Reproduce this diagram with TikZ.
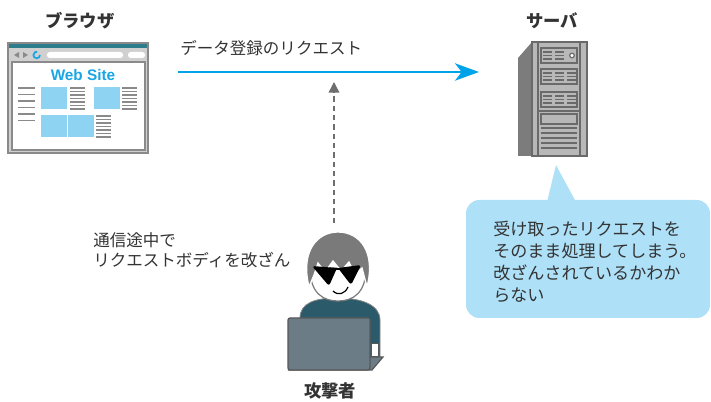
\documentclass[tikz,border=0pt]{standalone}
\usepackage{fontspec}
\setmainfont{Noto Sans CJK JP}
\newfontfamily\websans{Liberation Sans}
\usetikzlibrary{arrows.meta}

\definecolor{ink}{HTML}{333333}
\definecolor{reqblue}{HTML}{00A3E8}
\definecolor{bubble}{HTML}{AEE0F7}
\definecolor{pane}{HTML}{8FD3F2}
\definecolor{webblue}{HTML}{1AA6E4}
\definecolor{frame}{HTML}{D0D0D0}
\definecolor{framedark}{HTML}{8A8A8A}
\definecolor{barteal}{HTML}{2E7D8C}
\definecolor{srvfront}{HTML}{B8B8B8}
\definecolor{srvside}{HTML}{7C7C7C}
\definecolor{srvline}{HTML}{6A6A6A}
\definecolor{hair}{HTML}{7A7A7A}
\definecolor{shirt}{HTML}{2B5A6B}
\definecolor{laptop}{HTML}{6C7C87}
\definecolor{laptopline}{HTML}{585858}

\tikzset{
  label/.style={text=ink, inner sep=0pt, font=\fontsize{12.4}{16}\selectfont},
  title/.style={text=ink, inner sep=0pt, font=\bfseries\fontsize{13}{16}\selectfont},
  txtline/.style={draw=framedark, line width=1.3pt},
  vent/.style={draw=srvline, line width=0.9pt},
}

\begin{document}
\begin{tikzpicture}[x=0.75pt,y=-0.75pt]
  \useasboundingbox (0,0) rectangle (711,402);

  % titles
  \node[title] (browser-title) at (80,21) {ブラウザ};
  \node[title] (server-title) at (552,21) {サーバ};
  \node[title] (attacker-title) at (330,391) {攻撃者};

  % browser window
  \filldraw[fill=frame, draw=framedark, line width=1pt] (8,43) rectangle (148,153);
  \fill[barteal] (9,44) rectangle (147,48);
  \fill[framedark] (14,55) -- (19,52) -- (19,58) -- cycle;
  \fill[framedark] (23,52) -- (28,55) -- (23,58) -- cycle;
  \draw[webblue, line width=1.3pt] (40,55) arc[start angle=0, end angle=280, radius=3.3];
  \fill[white, rounded corners=2pt] (47,52) rectangle (123,58);
  \fill[white, rounded corners=2pt] (128,52) rectangle (145,58);
  \filldraw[fill=white, draw=framedark, line width=0.8pt] (12,62) rectangle (145,150);
  \node[text=webblue, inner sep=0pt, font=\websans\bfseries\fontsize{11.5}{12}\selectfont] (websign) at (83,75) {Web Site};
  \def\panes{(41,87),(94,87),(41,115),(68,115)}
  \foreach \p in \panes {\fill[pane] \p rectangle ++(26,22);}
  \foreach \y in {88,94.5,...,121} {\draw[txtline] (18,\y) -- (35,\y);}
  \foreach \x/\y in {70/88,122/88,96/116} {
    \foreach \k in {0,...,6} {\draw[txtline, line width=1pt] (\x,\y+\k*3.5) -- (\x+15,\y+\k*3.5);}
  }

  % server tower
  \fill[srvside] (518,58) -- (532,42) -- (532,156) -- (518,156) -- cycle;
  \filldraw[fill=srvfront, draw=srvline, line width=1pt] (532,42) rectangle (587,156);
  \draw[srvline, line width=0.8pt] (538,42) -- (538,156) (580,42) -- (580,156);
  \foreach \t in {48,69,92} {\filldraw[fill=srvfront, draw=srvline, line width=0.8pt] (541,\t) rectangle (577,\t+15);}
  \foreach \t in {48,69,92} {
    \foreach \g in {543,555} {\draw[vent] (\g,\t+4) -- (\g+9,\t+4) (\g,\t+7.5) -- (\g+9,\t+7.5) (\g,\t+11) -- (\g+9,\t+11);}
  }
  \foreach \t in {69,92} {\draw[vent] (567,\t+4) -- (576,\t+4) (567,\t+7.5) -- (576,\t+7.5) (567,\t+11) -- (576,\t+11);}
  \filldraw[fill=white, draw=srvline, line width=0.9pt] (572,55.5) circle[radius=2.3];
  \draw[srvline, line width=0.8pt] (538,111) -- (580,111);
  \filldraw[fill=srvfront, draw=srvline, line width=0.8pt] (541,114) rectangle (577,124);
  \foreach \y in {128,133,...,148} {\draw[vent] (541,\y) -- (577,\y);}

  % request arrow
  \coordinate (req-from) at (178,72);
  \coordinate (req-to) at (479,72);
  \draw[reqblue, line width=2.2pt, -{Stealth[length=18pt, width=13pt, inset=5pt]}] (req-from) -- (req-to);
  \node[label, anchor=west] (req-label) at (180,48) {データ登録のリクエスト};

  % tampering path
  \coordinate (tap-from) at (334,223);
  \coordinate (tap-to) at (334,82);
  \draw[framedark!80!black, line width=1.1pt, dash pattern=on 4pt off 3pt,
        -{Triangle[length=8pt, width=8pt]}] (tap-from) -- (tap-to);
  \node[label, anchor=north west, align=left, font=\fontsize{12.4}{15.5}\selectfont] (tamper-label) at (93,232)
    {通信途中で\\リクエストボディを改ざん};

  % attacker
  \filldraw[fill=shirt, draw=framedark, line width=0.6pt] (300,358) -- (300,318)
    .. controls (300,303) and (315,298) .. (337,298)
    .. controls (362,298) and (380,305) .. (380,320) -- (380,360) -- cycle;
  \filldraw[fill=white, draw=hair, line width=0.9pt] (310,268)
    .. controls (310,294) and (324,301) .. (338,301)
    .. controls (353,301) and (366,293) .. (366,268) -- cycle;
  \filldraw[fill=hair, draw=white, line width=1pt] (309,287)
    .. controls (300,250) and (318,232) .. (338,232)
    .. controls (360,232) and (376,252) .. (367,287)
    -- (362,268) -- (355,274) -- (349,262) -- (341,271) -- (333,261) -- (325,272) -- (318,263) -- (314,275) -- cycle;
  \fill[black, rounded corners=2pt] (312,266) -- (337,268) -- (329,286) -- cycle;
  \fill[black, rounded corners=2pt] (338,268) -- (361,265) -- (351,285) -- cycle;
  \draw[black, line width=1.2pt] (333,269) -- (341,269);
  \draw[black, line width=0.9pt] (333,291) .. controls (338,296) and (345,294) .. (348,287);
  \filldraw[fill=white, draw=laptopline, line width=0.6pt] (371,343) rectangle (378,356);
  \filldraw[fill=laptop, draw=laptopline, line width=0.9pt] (288,370) -- (372,370) -- (383,357) -- (370,357) -- cycle;
  \filldraw[fill=laptop, draw=laptopline, line width=0.9pt, rounded corners=1.5pt] (288,318) rectangle (370,370);

  % server reaction
  \fill[bubble] (547,202) -- (556,165) -- (576,202) -- cycle;
  \fill[bubble, rounded corners=10pt] (466,200) rectangle (710,318);
  \node[label, anchor=north west, align=left, font=\fontsize{12.8}{16.5}\selectfont] (note) at (493,221)
    {受け取ったリクエストを\\そのまま処理してしまう。\\改ざんされているかわか\\らない};
\end{tikzpicture}
\end{document}
